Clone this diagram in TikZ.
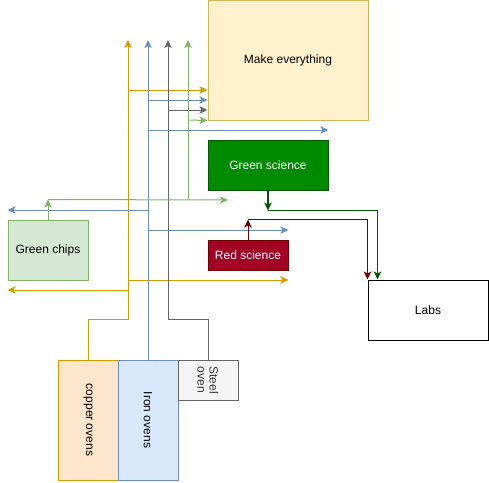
\documentclass[tikz,border=0pt]{standalone}
\usepackage{fontspec}
\setmainfont{Liberation Sans}
\usetikzlibrary{arrows.meta,positioning,calc}
\definecolor{cufill}{HTML}{FFE6CC}
\definecolor{culine}{HTML}{D79B00}
\definecolor{fefill}{HTML}{DAE8FC}
\definecolor{feline}{HTML}{6C8EBF}
\definecolor{stfill}{HTML}{F5F5F5}
\definecolor{stline}{HTML}{666666}
\definecolor{sttext}{HTML}{333333}
\definecolor{chfill}{HTML}{D5E8D4}
\definecolor{chline}{HTML}{82B366}
\definecolor{mkfill}{HTML}{FFF2CC}
\definecolor{mkline}{HTML}{D6B656}
\definecolor{gsfill}{HTML}{008A00}
\definecolor{gsline}{HTML}{005700}
\definecolor{rsfill}{HTML}{A20025}
\definecolor{rsline}{HTML}{6F0000}
\tikzset{
  box/.style={draw,line width=1pt,inner sep=0pt,align=center,
              font=\fontsize{12}{14}\selectfont},
  tip/.style={-{Stealth[length=8pt,width=7.5pt,inset=2pt]}},
  cuarr/.style={tip,line width=1pt,draw=culine},
  fearr/.style={tip,line width=1pt,draw=feline},
  starr/.style={tip,line width=1pt,draw=stline},
  charr/.style={tip,line width=1pt,draw=chline},
  gsarr/.style={tip,line width=1pt,draw=gsline},
  rsarr/.style={tip,line width=1pt,draw=rsline}
}

\begin{document}
\begin{tikzpicture}[x=1pt,y=-1pt]
    \path[use as bounding box] (0,0) rectangle (489,482);

    % boxes
    \node[box,draw=mkline,fill=mkfill,minimum width=160,minimum height=120]
      (make) at (288,60) {Make everything};
    \node[box,draw=gsline,fill=gsfill,text=white,minimum width=120,
      minimum height=50] (gsci) at (268,165) {Green science};
    \node[box,draw=rsline,fill=rsfill,text=white,minimum width=80,
      minimum height=30] (rsci) at (248,255) {Red science};
    \node[box,draw=chline,fill=chfill,minimum width=80,minimum height=60]
      (chips) at (48,250) {Green chips};
    \node[box,draw=black,fill=white,minimum width=120,minimum height=60]
      (labs) at (428,310) {Labs};
    \node[box,draw=culine,fill=cufill,minimum width=60,minimum height=120]
      (copper) at (88,420) {};
    \node[rotate=-90,font=\fontsize{12}{14}\selectfont] at (copper)
      {copper ovens};
    \node[box,draw=feline,fill=fefill,minimum width=60,minimum height=120]
      (iron) at (148,420) {};
    \node[rotate=-90,font=\fontsize{12}{14}\selectfont] at (iron)
      {Iron ovens};
    \node[box,draw=stline,fill=stfill,minimum width=60,minimum height=40]
      (steel) at (208,380) {};
    \node[rotate=-90,align=center,text=sttext,
      font=\fontsize{12}{12}\selectfont] at (steel) {Steel\\oven};

    % free ends
    \coordinate (cuTop) at (128,40);
    \coordinate (feTop) at (148,40);
    \coordinate (stTop) at (168,40);
    \coordinate (chTop) at (188,40);

    % copper
    \draw[cuarr] (copper.north) -- ++(0,-40) -| (cuTop);
    \coordinate (cuA) at (128,90);
    \coordinate (cuB) at (128,280);
    \coordinate (cuC) at (128,290);
    \draw[cuarr] (cuA) -- (cuA -| make.west);
    \draw[cuarr] (cuB) -- (cuB -| rsci.east);
    \draw[cuarr] (cuC) -- (cuC -| chips.west);

    % iron
    \draw[fearr] (iron.north) -- (feTop);
    \coordinate (feA) at (148,100);
    \coordinate (feB) at (148,130);
    \coordinate (feC) at (148,210);
    \coordinate (feD) at (148,230);
    \draw[fearr] (feA) -- (feA -| make.west);
    \draw[fearr] (feB) -- (feB -| gsci.east);
    \draw[fearr] (feC) -- (feC -| chips.west);
    \draw[fearr] (feD) -- (feD -| rsci.east);

    % steel
    \draw[starr] (steel.north) -- ++(0,-40) -| (stTop);
    \coordinate (stA) at (168,110);
    \draw[starr] (stA) -- (stA -| make.west);

    % green chips
    \coordinate (chA) at (228,200);
    \coordinate (chB) at (188,200);
    \coordinate (chC) at (188,120);
    \draw[charr] (chips.north) -- ++(0,-20) coordinate (chD);
    \draw[charr] (chD) -- (chA);
    \draw[charr] (chB) -- (chTop);
    \draw[charr] (chC) -- (make.south west);

    % science to labs
    \draw[gsarr,line width=1.5pt] (gsci.south) -- ++(0,20) coordinate (gsA);
    \draw[gsarr] (gsA) -| ([xshift=10]labs.north west);
    \draw[rsarr] (rsci.north) -- ++(0,-20) coordinate (rsA);
    \draw[rsarr] (rsA) -| (labs.north west);
  \end{tikzpicture}
\end{document}
